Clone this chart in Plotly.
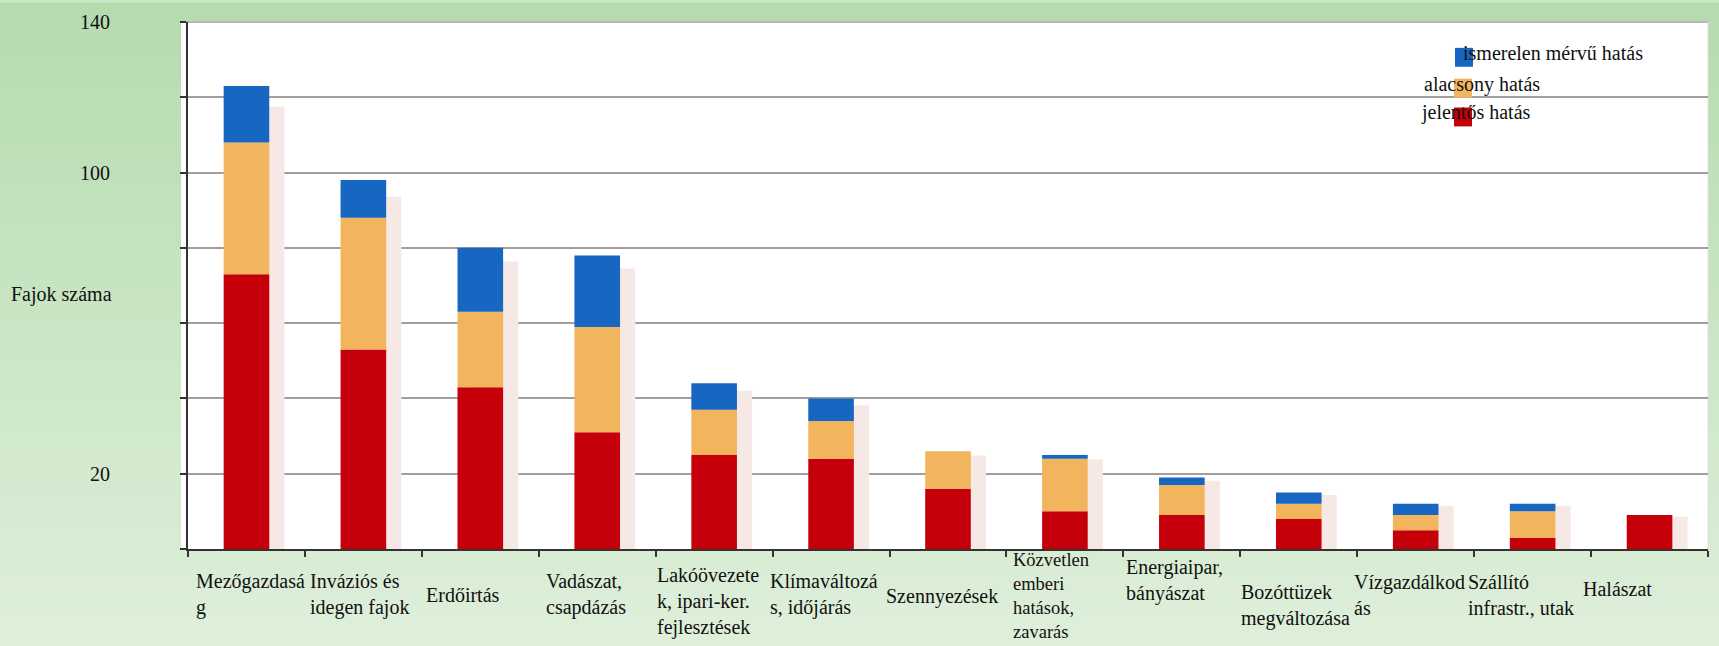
import plotly.graph_objects as go

# ---------------- data ----------------
categories = [
    "Mezőgazdaság", "Inváziós és idegen fajok", "Erdőirtás", "Vadászat, csapdázás",
    "Lakóövezetek, ipari-ker. fejlesztések", "Klímaváltozás, időjárás", "Szennyezések",
    "Közvetlen emberi hatások, zavarás", "Energiaipar, bányászat", "Bozóttüzek megváltozása",
    "Vízgazdálkodás", "Szállító infrastr., utak", "Halászat",
]
category_labels = [
    "Mezőgazdasá<br>g", "Inváziós és<br>idegen fajok", "Erdőirtás", "Vadászat,<br>csapdázás",
    "Lakóövezete<br>k, ipari-ker.<br>fejlesztések", "Klímaváltozá<br>s, időjárás", "Szennyezések",
    "Közvetlen<br>emberi<br>hatások,<br>zavarás", "Energiaipar,<br>bányászat",
    "Bozóttüzek<br>megváltozása", "Vízgazdálkod<br>ás", "Szállító<br>infrastr., utak", "Halászat",
]
jelentos = [73, 53, 43, 31, 25, 24, 16, 10, 9, 8, 5, 3, 9]
alacsony = [35, 35, 20, 28, 12, 10, 10, 14, 8, 4, 4, 7, 0]
ismeretlen = [15, 10, 17, 19, 7, 6, 0, 1, 2, 3, 3, 2, 0]
series_names = ["jelentős hatás", "alacsony hatás", "ismerelen mérvű hatás"]
ytick_values = [0, 20, 40, 60, 80, 100, 120, 140]
ytick_text = ["", "20", "", "", "", "100", "", "140"]
y_title = "Fajok száma"

# ---------------- style ----------------
W, H = 1719, 646
ML, MR, MT, MB = 188, 11, 19, 97
PW, PH = W - ML - MR, H - MT - MB
FONT = "'Liberation Serif', 'DejaVu Serif', serif"
RED, ORANGE, BLUE = "#c6000b", "#f2b45c", "#1766c2"
SHADOW = "#f6e8e4"
BAR_W = 0.39
LABEL_DX = [8, 5, 4, 7, 1, -3, -4, 7, 3, 1, -3, -6, -8]
LABEL_DY = [0, 0, 0, 0, 7, 0, 2, 1, -14, 11, 0, 0, -6]
LABEL_SIZE = [20, 20, 20, 20, 20, 20, 20, 18.5, 20, 20, 20, 20, 20]


def px_x(x):
    return (x - ML) / PW


def px_y(y):
    return (MT + PH - y) / PH


n = len(categories)
base_orange = [r for r in jelentos]
base_blue = [r + o for r, o in zip(jelentos, alacsony)]
totals = [r + o + b for r, o, b in zip(jelentos, alacsony, ismeretlen)]
shadow = [t * 0.955 for t in totals]

fig = go.Figure()
fig.add_trace(go.Bar(x=categories, y=shadow, base=0, width=BAR_W, offset=-BAR_W / 2 + 0.13,
                     marker=dict(color=SHADOW, line=dict(width=0)), showlegend=False,
                     hoverinfo="skip"))
fig.add_trace(go.Bar(x=categories, y=jelentos, base=0, width=BAR_W, offset=-BAR_W / 2,
                     name=series_names[0], marker=dict(color=RED, line=dict(width=0)),
                     showlegend=False))
fig.add_trace(go.Bar(x=categories, y=alacsony, base=base_orange, width=BAR_W, offset=-BAR_W / 2,
                     name=series_names[1], marker=dict(color=ORANGE, line=dict(width=0)),
                     showlegend=False))
fig.add_trace(go.Bar(x=categories, y=ismeretlen, base=base_blue, width=BAR_W, offset=-BAR_W / 2,
                     name=series_names[2], marker=dict(color=BLUE, line=dict(width=0)),
                     showlegend=False))

shapes = []
# gradient background (vertical, darker green at top)
top_c = (181, 219, 175)
bot_c = (222, 239, 218)
NB = 60
y_lo, y_hi = -MB / PH, 1 + MT / PH
for k in range(NB):
    t = k / (NB - 1)
    c = tuple(round(top_c[j] + (bot_c[j] - top_c[j]) * t) for j in range(3))
    y1 = y_hi - (y_hi - y_lo) * k / NB
    y0 = y_hi - (y_hi - y_lo) * (k + 1) / NB
    shapes.append(dict(type="rect", xref="paper", yref="paper", x0=-ML / PW, x1=1 + MR / PW,
                       y0=y0 - 0.002, y1=y1 + 0.001, fillcolor="rgb(%d,%d,%d)" % c,
                       line=dict(width=0), layer="below"))
# white plot area
shapes.append(dict(type="rect", xref="paper", yref="paper", x0=px_x(181), x1=1, y0=0, y1=1,
                   fillcolor="white", line=dict(width=0), layer="below"))
# top / right frame
shapes.append(dict(type="line", xref="paper", yref="paper", x0=px_x(181), x1=1, y0=1, y1=1,
                   line=dict(color="#bfb2b2", width=2), layer="below"))
shapes.append(dict(type="line", xref="paper", yref="paper", x0=1, x1=1, y0=0, y1=1,
                   line=dict(color="#e4dede", width=1), layer="below"))

# custom legend squares
legend_items = [
    (series_names[2], BLUE, 1455, 45, 1462, 57),
    (series_names[1], ORANGE, 1454, 76, 1423, 89),
    (series_names[0], RED, 1454, 105, 1420, 118),
]
annotations = []
for name, col, sx, sy, tx, ty in legend_items:
    shapes.append(dict(type="rect", xref="paper", yref="paper", x0=px_x(sx), x1=px_x(sx + 18),
                       y0=px_y(sy + 19), y1=px_y(sy), fillcolor=col, line=dict(width=0)))
    annotations.append(dict(text=name, xref="paper", yref="paper", x=px_x(tx), y=px_y(ty),
                            xanchor="left", yanchor="bottom", yshift=-5, showarrow=False,
                            font=dict(family=FONT, size=20, color="#111"),
                            borderpad=0))

# category labels
for i, lab in enumerate(category_labels):
    annotations.append(dict(text=lab, xref="x", yref="paper", x=i - 0.5, y=px_y(595),
                            xanchor="left", yanchor="middle", align="left",
                            xshift=LABEL_DX[i] - 1, yshift=-LABEL_DY[i], showarrow=False,
                            font=dict(family=FONT, size=LABEL_SIZE[i], color="#111"),
                            borderpad=0))

# y title
annotations.append(dict(text=y_title, xref="paper", yref="paper", x=px_x(10), y=px_y(293),
                        xanchor="left", yanchor="middle", showarrow=False,
                        font=dict(family=FONT, size=20, color="#111"), borderpad=0))

fig.update_layout(
    width=W, height=H,
    margin=dict(l=ML, r=MR, t=MT, b=MB, pad=0),
    barmode="overlay",
    paper_bgcolor="#cfe7ca",
    plot_bgcolor="white",
    font=dict(family=FONT, size=20, color="#111"),
    shapes=shapes,
    annotations=annotations,
    showlegend=False,
    xaxis=dict(type="category", range=[-0.5, n - 0.5], showticklabels=False,
               ticks="outside", tickson="boundaries", ticklen=6, tickwidth=1.5, tickcolor="#333",
               showline=True, linecolor="#333", linewidth=2, showgrid=False, fixedrange=True),
    yaxis=dict(range=[0, 140], tickvals=ytick_values, ticktext=ytick_text,
               ticks="outside", ticklen=6, tickwidth=1.5, tickcolor="#333",
               ticklabelstandoff=66,
               showline=True, linecolor="#333", linewidth=2,
               showgrid=True, gridcolor="#a49d9d", gridwidth=1.5, zeroline=False,
               tickfont=dict(family=FONT, size=20, color="#111"), fixedrange=True),
)

fig.write_html("out.html", config={"displayModeBar": False},
               post_script="document.body.style.margin='0';document.body.style.overflow='hidden';")
